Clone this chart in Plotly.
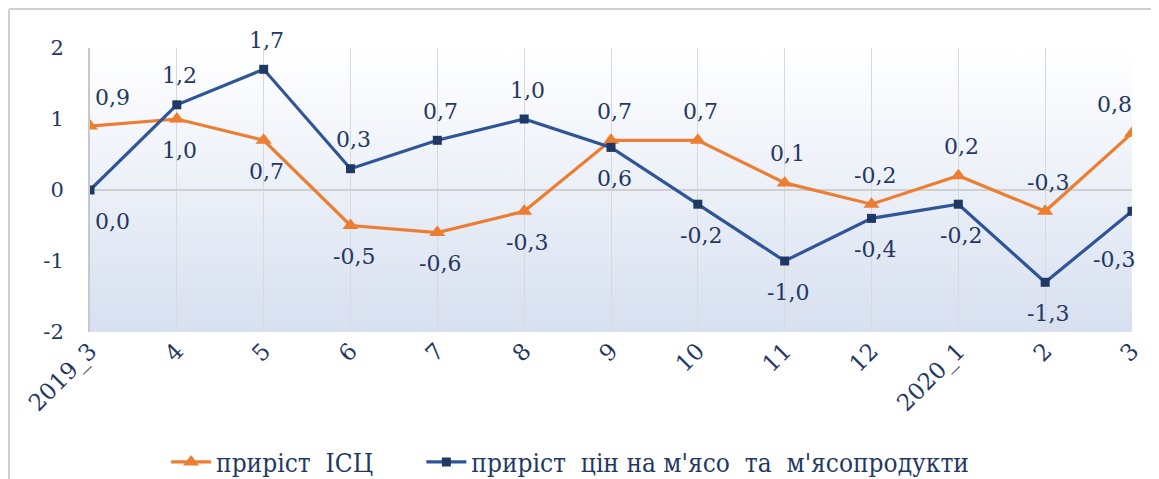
import base64
import plotly.graph_objects as go

categories = ["2019_3", "4", "5", "6", "7", "8", "9", "10", "11", "12", "2020_1", "2", "3"]
cpi_growth = [0.9, 1.0, 0.7, -0.5, -0.6, -0.3, 0.7, 0.7, 0.1, -0.2, 0.2, -0.3, 0.8]
meat_growth = [0.0, 1.2, 1.7, 0.3, 0.7, 1.0, 0.6, -0.2, -1.0, -0.4, -0.2, -1.3, -0.3]
series_names = ["приріст  ІСЦ", "приріст  цін на м'ясо  та  м'ясопродукти"]
y_ticks = [2, 1, 0, -1, -2]

# label placement: +1 above, -1 below
cpi_pos = [1, -1, -1, -1, -1, -1, 1, 1, 1, 1, 1, 1, 1]
meat_pos = [-1, 1, 1, 1, 1, 1, -1, -1, -1, -1, -1, -1, -1]

NAVY = "#1f3864"
ORANGE = "#ED7D31"
BLUE = "#2F5597"

# page body has an 8px margin, so the figure sits at (8, 8) in the window
W, H = 1151, 471
ML, MR, MT, MB = 82, 27, 40, 147

x_idx = list(range(len(categories)))

fig = go.Figure()
fig.add_trace(go.Scatter(
    x=x_idx, y=cpi_growth, name=series_names[0], mode="lines+markers",
    line=dict(color=ORANGE, width=3.2),
    marker=dict(symbol="triangle-up", size=14, color=ORANGE),
    legend="legend",
))
fig.add_trace(go.Scatter(
    x=x_idx, y=meat_growth, name=series_names[1], mode="lines+markers",
    line=dict(color=BLUE, width=3.2),
    marker=dict(symbol="square", size=9, color=NAVY),
    legend="legend2",
))

def fmt(v):
    return f"{v:.1f}".replace(".", ",")

annotations = []
n = len(categories)
for k, (vals, pos) in enumerate(((cpi_growth, cpi_pos), (meat_growth, meat_pos))):
    for i, (v, p) in enumerate(zip(vals, pos)):
        xs = 3
        ys = 29 if p > 0 else -31
        if i == 0:
            xs = 22
        elif i == n - 1:
            xs = -18
            if k == 1:
                ys = -48
        annotations.append(dict(
            x=i, y=v, text=fmt(v), showarrow=False,
            yshift=ys, xshift=xs,
            font=dict(family="DejaVu Serif", size=22, color=NAVY),
        ))

svg = (
    '<svg xmlns="http://www.w3.org/2000/svg" width="100" height="100" preserveAspectRatio="none">'
    '<defs><linearGradient id="g" x1="0" y1="0" x2="0" y2="1">'
    '<stop offset="0" stop-color="#ffffff"/>'
    '<stop offset="1" stop-color="#d7e0f0"/>'
    '</linearGradient></defs>'
    '<rect width="100" height="100" fill="url(#g)"/></svg>'
)
src = "data:image/svg+xml;base64," + base64.b64encode(svg.encode()).decode()

pw = W - ML - MR
ph = H - MT - MB
bx = (1 - ML) / pw
by = (H - MB - 1) / ph

legend_font = dict(family="DejaVu Serif Condensed, DejaVu Serif", size=26, color=NAVY)

fig.update_layout(
    width=W, height=H,
    margin=dict(l=ML, r=MR, t=MT, b=MB, autoexpand=False),
    paper_bgcolor="white", plot_bgcolor="rgba(0,0,0,0)",
    showlegend=True,
    legend=dict(orientation="h", x=0.073, xanchor="left", y=-0.458, yanchor="middle",
                font=legend_font, itemwidth=40),
    legend2=dict(orientation="h", x=0.318, xanchor="left", y=-0.458, yanchor="middle",
                 font=legend_font, itemwidth=40),
    annotations=annotations,
    images=[dict(source=src, xref="paper", yref="paper", x=0, y=1, sizex=1, sizey=1,
                 xanchor="left", yanchor="top", sizing="stretch", layer="below")],
    shapes=[
        dict(type="line", xref="paper", yref="paper", x0=bx, x1=1.2, y0=by, y1=by,
             line=dict(color="#d0d0d0", width=2)),
        dict(type="line", xref="paper", yref="paper", x0=bx, x1=bx, y0=by, y1=-1,
             line=dict(color="#d0d0d0", width=2)),
    ],
    xaxis=dict(
        range=[0, n - 1], tickmode="array", tickvals=x_idx, ticktext=categories,
        tickangle=-45, showgrid=True, gridcolor="#d9d9d9", gridwidth=1,
        showline=False, zeroline=False, ticks="", automargin=False,
        tickfont=dict(family="DejaVu Serif", size=23, color=NAVY),
    ),
    yaxis=dict(
        range=[-2, 2], tickmode="array", tickvals=y_ticks, ticktext=[str(t) for t in y_ticks],
        showgrid=False, zeroline=True, zerolinecolor="#d0d0d0", zerolinewidth=2,
        showline=True, linecolor="#c8c8c8", linewidth=2, ticks="", automargin=False,
        ticklabelstandoff=20,
        tickfont=dict(family="DejaVu Serif", size=21, color=NAVY),
    ),
)

fig.write_html("out.html")
